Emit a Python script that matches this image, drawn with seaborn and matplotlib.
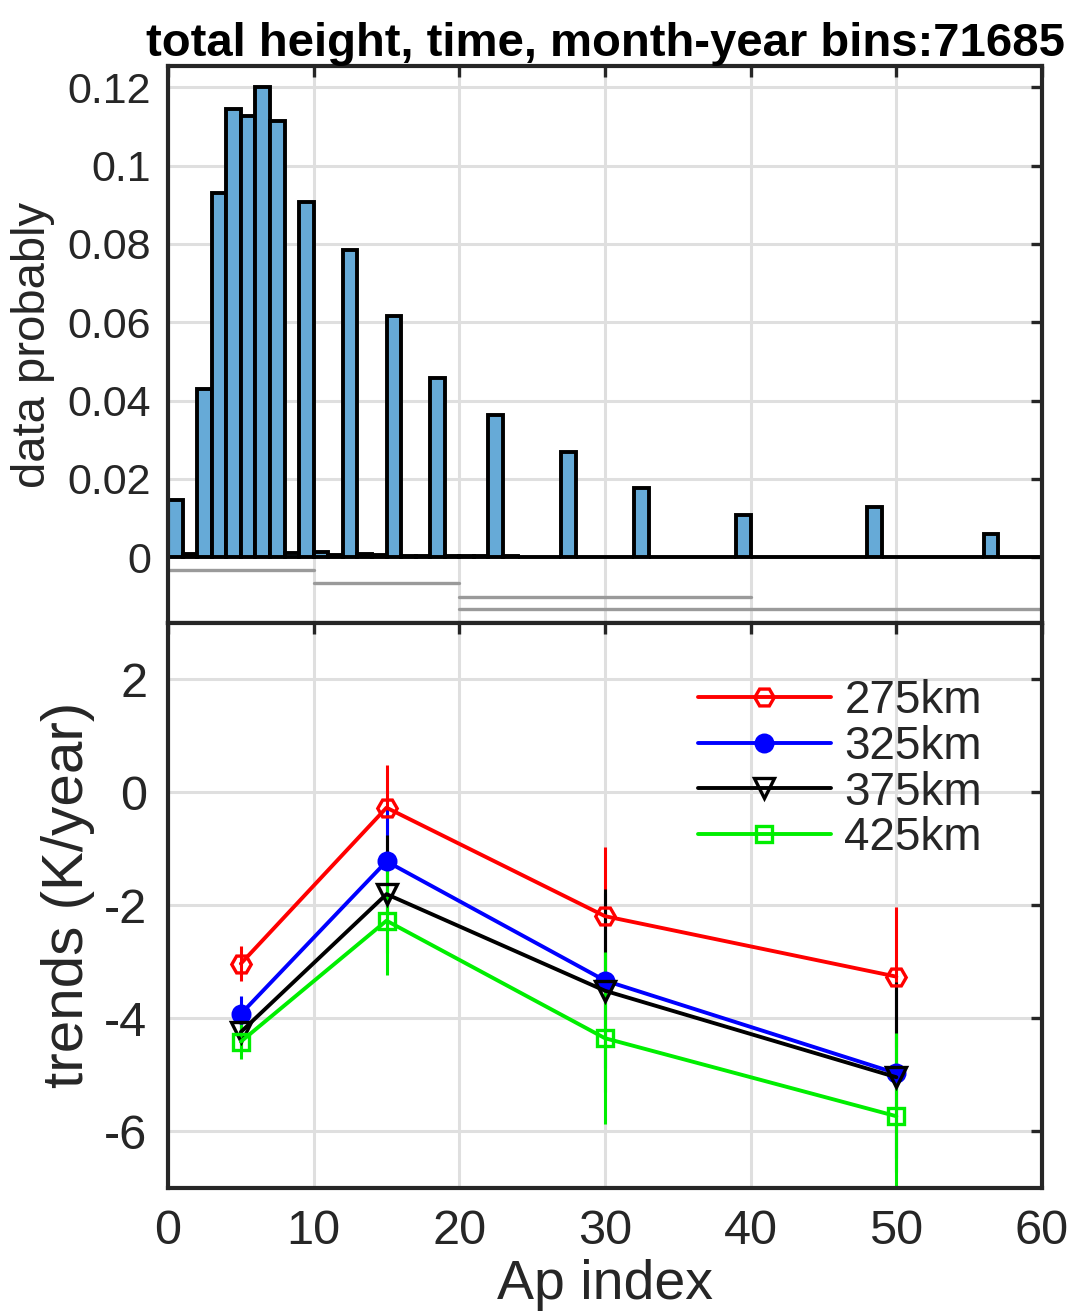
import numpy as np
import pandas as pd
import matplotlib
matplotlib.use("Agg")
import matplotlib.pyplot as plt
from matplotlib.lines import Line2D
import seaborn as sns

# histogram of Ap index, bins of width 1 from 0 to 60 (probability per bin)
bin_edges = list(range(0, 61))
bin_prob = [0.0146, 0.0009, 0.0429, 0.0930, 0.1144, 0.1126, 0.1200, 0.1114, 0.0012, 0.0907,
            0.0013, 0.0006, 0.0784, 0.0009, 0.0005, 0.0616, 0.0003, 0.0003, 0.0457, 0.0004,
            0.0004, 0.0002, 0.0363, 0.0002, 0.0001, 0.0001, 0.0001, 0.0268, 0.0001, 0.0001,
            0.0001, 0.0001, 0.0176, 0.0001, 0.0001, 0.0001, 0.0001, 0.0001, 0.0001, 0.0109,
            0.0001, 0.0001, 0.0001, 0.0, 0.0, 0.0, 0.0, 0.0, 0.0129, 0.0,
            0.0, 0.0, 0.0, 0.0, 0.0, 0.0, 0.0060, 0.0, 0.0, 0.0]

# Ap ranges used for the trend bins (grey bars under the histogram)
range_lo = [0, 10, 20, 20]
range_hi = [10, 20, 40, 60]
range_y = [-0.0033, -0.0066, -0.0102, -0.0133]

# trends vs Ap at four heights
ap_levels = [5, 15, 30, 50]
heights = ['275km', '325km', '375km', '425km']
trend = {
    '275km': [-3.03, -0.27, -2.19, -3.26],
    '325km': [-3.92, -1.22, -3.33, -4.97],
    '375km': [-4.24, -1.80, -3.51, -5.04],
    '425km': [-4.41, -2.27, -4.35, -5.73],
}
trend_err = {
    '275km': [0.31, 0.75, 1.22, 1.24],
    '325km': [0.31, 0.92, 1.55, 1.50],
    '375km': [0.30, 1.04, 1.80, 1.68],
    '425km': [0.31, 0.96, 1.52, 1.47],
}
colors = {'275km': 'red', '325km': 'blue', '375km': 'black', '425km': '#00ee00'}
markers = {'275km': 'H', '325km': 'o', '375km': 'v', '425km': 's'}
msizes = {'275km': 14, '325km': 12, '375km': 15, '425km': 11}
filled = {'275km': False, '325km': True, '375km': False, '425km': False}

sns.set_style("white")
plt.rcParams['font.family'] = ['Liberation Sans', 'DejaVu Sans']
plt.rcParams['axes.unicode_minus'] = False
txt = '#262626'

fig = plt.figure(figsize=(10.75, 13.15), dpi=100)
ax1 = fig.add_axes([0.1563, 0.5262, 0.8130, 0.4236])
ax2 = fig.add_axes([0.1563, 0.0966, 0.8130, 0.4297])

grid_kw = dict(color='#dfdfdf', linewidth=2.2)

# --- top: histogram
hist_df = pd.DataFrame({'ap': [e + 0.5 for e in bin_edges[:-1]], 'p': bin_prob})
sns.histplot(data=hist_df, x='ap', weights='p', bins=bin_edges,
             color='#66aad7', alpha=1.0, edgecolor='black', linewidth=2.8, ax=ax1)
for lo, hi, yy in zip(range_lo, range_hi, range_y):
    ax1.plot([lo, hi], [yy, yy], color='#9a9a9a', linewidth=2.4)
ax1.set_xlim(0, 60)
ax1.set_ylim(-0.0168, 0.1254)
ax1.set_xticks(np.arange(0, 61, 10))
ax1.set_xticklabels([])
ax1.set_yticks([0, 0.02, 0.04, 0.06, 0.08, 0.1, 0.12])
ax1.set_yticklabels(['0', '0.02', '0.04', '0.06', '0.08', '0.1', '0.12'])
ax1.set_xlabel('')
ax1.set_ylabel('data probably', fontsize=34, color=txt)
ax1.yaxis.set_label_coords(-0.129, 0.5)
ax1.set_title('total height, time, month-year bins:71685', fontsize=34,
              fontweight='bold', color='black', pad=7)
ax1.tick_params(labelsize=31, colors=txt, direction='in', length=8, width=2.4,
                top=True, right=True, pad=12)

# --- bottom: trends
handles = []
for h in heights:
    c = colors[h]
    mfc = c if filled[h] else 'none'
    ax2.errorbar(ap_levels, trend[h], yerr=trend_err[h], color=c, ecolor=c,
                 elinewidth=2.2, capsize=0, linewidth=2.8, marker=markers[h],
                 markersize=msizes[h], markeredgewidth=2.4, markerfacecolor=mfc)
    handles.append(Line2D([], [], color=c, linewidth=2.8, marker=markers[h],
                          markersize=msizes[h], markeredgewidth=2.4,
                          markerfacecolor=mfc, label=h))
ax2.set_xlim(0, 60)
ax2.set_ylim(-7, 3)
ax2.set_xticks(np.arange(0, 61, 10))
ax2.set_yticks([-6, -4, -2, 0, 2])
ax2.set_xlabel('Ap index', fontsize=40, color=txt, labelpad=4)
ax2.set_ylabel('trends (K/year)', fontsize=42, color=txt)
ax2.yaxis.set_label_coords(-0.084, 0.519)
ax2.tick_params(labelsize=35, colors=txt, direction='in', length=8, width=2.4,
                top=True, right=True, pad=15)
ax2.legend(handles=handles, loc='upper left', bbox_to_anchor=(0.606, 0.901),
           frameon=False, fontsize=33, handlelength=2.9, handletextpad=0.3,
           labelspacing=0.04, borderpad=0, borderaxespad=0)

for ax in (ax1, ax2):
    ax.grid(True, **grid_kw)
    ax.set_axisbelow(True)
    for s in ax.spines.values():
        s.set_color(txt)
        s.set_linewidth(3)

fig.savefig('out.png', dpi=100)
